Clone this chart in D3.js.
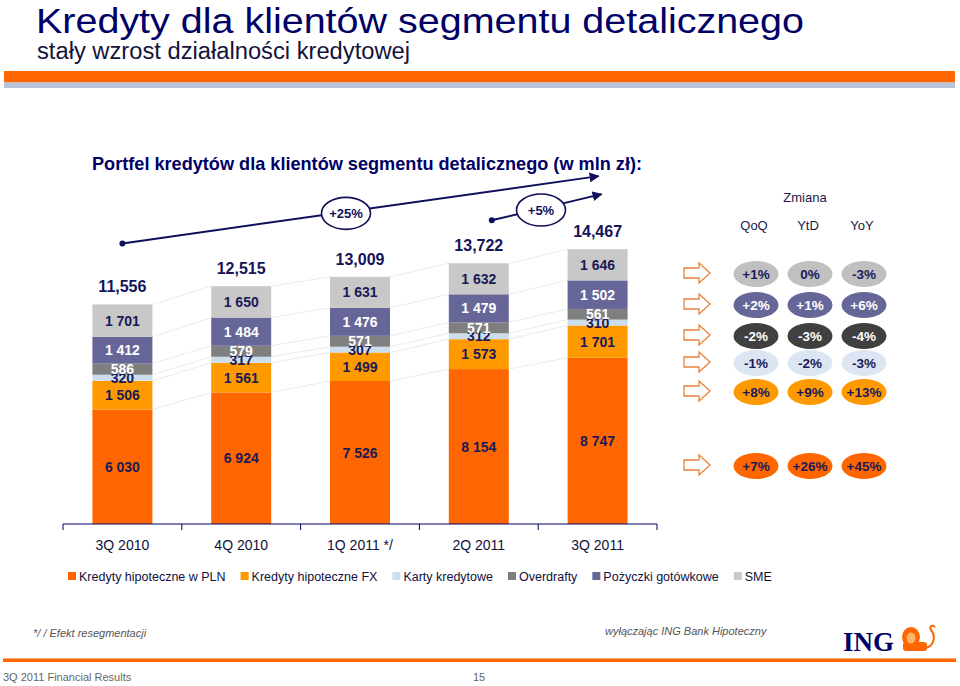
<!DOCTYPE html>
<html><head><meta charset="utf-8">
<script src="https://cdn.jsdelivr.net/npm/d3@7"></script>
<style>
html,body{margin:0;padding:0;background:#fff;}
svg{display:block;font-family:"Liberation Sans",Arial,sans-serif;}
</style></head>
<body>
<svg id="chart" width="960" height="686"></svg>
<script>
// ---------- DATA ----------
const categories = ["3Q 2010", "4Q 2010", "1Q 2011 */", "2Q 2011", "3Q 2011"];
const seriesNames = ["Kredyty hipoteczne w PLN", "Kredyty hipoteczne FX", "Karty kredytowe", "Overdrafty", "Pożyczki gotówkowe", "SME"];
const plnMortgages = [6030, 6924, 7526, 8154, 8747];
const fxMortgages  = [1506, 1561, 1499, 1573, 1701];
const creditCards  = [320, 317, 307, 312, 310];
const overdrafts   = [586, 579, 571, 571, 561];
const cashLoans    = [1412, 1484, 1476, 1479, 1502];
const smeLoans     = [1701, 1650, 1631, 1632, 1646];
const totals       = [11556, 12515, 13009, 13722, 14467];
const growthLabels = ["+25%", "+5%"];
const changeHeaders = ["QoQ", "YtD", "YoY"];
const changeSME   = ["+1%", "0%", "-3%"];
const changeCash  = ["+2%", "+1%", "+6%"];
const changeOver  = ["-2%", "-3%", "-4%"];
const changeCards = ["-1%", "-2%", "-3%"];
const changeFX    = ["+8%", "+9%", "+13%"];
const changePLN   = ["+7%", "+26%", "+45%"];

// ---------- STYLE ----------
const colors = ["#FF6600", "#FF9900", "#CCDDEE", "#7F7F7F", "#666699", "#C8C8C8"];
const labelColors = ["#1a1a55", "#1a1a55", "#1a1a55", "#ffffff", "#ffffff", "#1a1a55"];
const navy = "#000066";

const svg = d3.select("#chart");

// ---------- HEADER ----------
svg.append("text").attr("x", 36).attr("y", 32.5).attr("font-size", 35.5)
  .attr("fill", navy).attr("textLength", 768).attr("lengthAdjust", "spacingAndGlyphs")
  .text("Kredyty dla klientów segmentu detalicznego");
svg.append("text").attr("x", 37).attr("y", 59).attr("font-size", 23)
  .attr("fill", "#14143a").attr("textLength", 373).attr("lengthAdjust", "spacingAndGlyphs")
  .text("stały wzrost działalności kredytowej");
svg.append("rect").attr("x", 4).attr("y", 71).attr("width", 951).attr("height", 11.5).attr("fill", "#FF6600");
svg.append("rect").attr("x", 4).attr("y", 82.5).attr("width", 951).attr("height", 5.5).attr("fill", "#B7C3DB");

svg.append("text").attr("x", 92).attr("y", 170).attr("font-size", 19).attr("font-weight", "bold")
  .attr("fill", navy).attr("textLength", 550).attr("lengthAdjust", "spacingAndGlyphs")
  .text("Portfel kredytów dla klientów segmentu detalicznego (w mln zł):");

// ---------- SCALES ----------
const x = d3.scaleBand().domain(categories).range([63, 657]).paddingInner(0.495).paddingOuter(0.2475);
const y = d3.scaleLinear().domain([0, 17000]).range([524, 201]);
const bw = x.bandwidth();

const rows = categories.map((c, i) => ({
  cat: c, pln: plnMortgages[i], fx: fxMortgages[i], cards: creditCards[i],
  over: overdrafts[i], cash: cashLoans[i], sme: smeLoans[i]
}));
const keys = ["pln", "fx", "cards", "over", "cash", "sme"];
const stacked = d3.stack().keys(keys)(rows);

// connector lines between bars
stacked.forEach(layer => {
  for (let i = 0; i < layer.length - 1; i++) {
    svg.append("line")
      .attr("x1", x(categories[i]) + bw).attr("y1", y(layer[i][1]))
      .attr("x2", x(categories[i + 1])).attr("y2", y(layer[i + 1][1]))
      .attr("stroke", "#ececf0").attr("stroke-width", 1);
  }
});

// bars
const fmt = d3.formatLocale({ decimal: ".", thousands: " ", grouping: [3], currency: ["", ""] }).format(",");
stacked.forEach((layer, k) => {
  const g = svg.append("g");
  g.selectAll("rect").data(layer).join("rect")
    .attr("x", (d, i) => x(categories[i])).attr("width", bw)
    .attr("y", d => y(d[1])).attr("height", d => y(d[0]) - y(d[1]))
    .attr("fill", colors[k]);
});
stacked.forEach((layer, k) => {
  svg.append("g").selectAll("text").data(layer).join("text")
    .attr("x", (d, i) => x(categories[i]) + bw / 2)
    .attr("y", d => (y(d[0]) + y(d[1])) / 2 + 5)
    .attr("text-anchor", "middle").attr("font-size", 14).attr("font-weight", "bold")
    .attr("fill", labelColors[k])
    .text(d => fmt(d[1] - d[0]));
});

// totals
const fmtTot = d3.format(",");
svg.append("g").selectAll("text").data(totals).join("text")
  .attr("x", (d, i) => x(categories[i]) + bw / 2)
  .attr("y", d => y(d) - 12)
  .attr("text-anchor", "middle").attr("font-size", 16).attr("font-weight", "bold")
  .attr("fill", "#14145a").text(d => fmtTot(d));

// axis
const axisG = svg.append("g").attr("transform", "translate(0,524)")
  .call(d3.axisBottom(x).tickSize(0).tickPadding(16));
axisG.select(".domain").attr("stroke", navy).attr("d", "M63,6V0H657V6");
axisG.selectAll("text").attr("font-size", 14).attr("fill", "#10103a")
  .attr("font-family", "Liberation Sans, Arial, sans-serif");
const step = x.step();
for (let i = 1; i < categories.length; i++) {
  axisG.append("line").attr("x1", 63 + i * step).attr("x2", 63 + i * step)
    .attr("y1", 0).attr("y2", 6).attr("stroke", navy);
}

// growth arrows
svg.append("defs").append("marker").attr("id", "ah").attr("viewBox", "0 0 10 10")
  .attr("refX", 9).attr("refY", 5).attr("markerWidth", 5).attr("markerHeight", 5)
  .attr("orient", "auto").append("path").attr("d", "M0,0L10,5L0,10z").attr("fill", "#10105a");
const cx = c => x(c) + bw / 2;
const growth = [
  { x1: cx(categories[0]), y1: y(totals[0]) - 61, x2: cx(categories[4]) + 1, y2: y(totals[4]) - 73, ex: 346, label: growthLabels[0] },
  { x1: cx(categories[3]) + 13, y1: y(totals[3]) - 43, x2: cx(categories[4]) + 4, y2: y(totals[4]) - 55, ex: 541, label: growthLabels[1] }
];
growth.forEach(g => {
  svg.append("line").attr("x1", g.x1).attr("y1", g.y1).attr("x2", g.x2).attr("y2", g.y2)
    .attr("stroke", "#10105a").attr("stroke-width", 2).attr("marker-end", "url(#ah)");
  svg.append("circle").attr("cx", g.x1).attr("cy", g.y1).attr("r", 3).attr("fill", "#10105a");
  const t = (g.ex - g.x1) / (g.x2 - g.x1);
  const ey = g.y1 + t * (g.y2 - g.y1) + 1.5;
  svg.append("ellipse").attr("cx", g.ex).attr("cy", ey).attr("rx", 24.5).attr("ry", 16)
    .attr("fill", "#fff").attr("stroke", "#10105a").attr("stroke-width", 1.6);
  svg.append("text").attr("x", g.ex).attr("y", ey + 4.5).attr("text-anchor", "middle")
    .attr("font-size", 13).attr("font-weight", "bold").attr("fill", "#10105a").text(g.label);
});

// ---------- CHANGE PANEL ----------
svg.append("text").attr("x", 805).attr("y", 202).attr("text-anchor", "middle")
  .attr("font-size", 13).attr("fill", "#1a1a4a").text("Zmiana");
const colX = [756, 810, 864];
svg.append("g").selectAll("text").data(changeHeaders).join("text")
  .attr("x", (d, i) => colX[i] - 2).attr("y", 230).attr("text-anchor", "middle")
  .attr("font-size", 13).attr("fill", "#1a1a4a").text(d => d);

const panelRows = [
  { vals: changeSME,   fill: "#C0C0C0", text: "#1a1a5a", cy: 274 },
  { vals: changeCash,  fill: "#666699", text: "#ffffff", cy: 305 },
  { vals: changeOver,  fill: "#404040", text: "#ffffff", cy: 336 },
  { vals: changeCards, fill: "#DCE6F2", text: "#1a1a5a", cy: 363 },
  { vals: changeFX,    fill: "#FF9900", text: "#1a1a5a", cy: 392 },
  { vals: changePLN,   fill: "#FF6600", text: "#1a1a5a", cy: 466 }
];
panelRows.forEach(r => {
  const ay = r.cy - 1;
  svg.append("path")
    .attr("d", `M684,${ay - 5}H699V${ay - 10}L710,${ay}L699,${ay + 10}V${ay + 5}H684Z`)
    .attr("fill", "#fff").attr("stroke", "#E8813A").attr("stroke-width", 1.3);
  r.vals.forEach((v, i) => {
    svg.append("ellipse").attr("cx", colX[i]).attr("cy", r.cy).attr("rx", 22.5).attr("ry", 13)
      .attr("fill", r.fill);
    svg.append("text").attr("x", colX[i]).attr("y", r.cy + 5).attr("text-anchor", "middle")
      .attr("font-size", 13.5).attr("font-weight", "bold").attr("fill", r.text).text(v);
  });
});

// ---------- LEGEND ----------
let lx = 68;
seriesNames.forEach((n, k) => {
  svg.append("rect").attr("x", lx).attr("y", 572).attr("width", 8).attr("height", 8).attr("fill", colors[k]);
  const t = svg.append("text").attr("x", lx + 11).attr("y", 581).attr("font-size", 12.5)
    .attr("fill", "#10103a").text(n);
  lx += 11 + t.node().getComputedTextLength() + 15;
});

// ---------- FOOTER ----------
svg.append("text").attr("x", 33).attr("y", 637).attr("font-size", 11).attr("font-style", "italic")
  .attr("fill", "#555").text("*/ / Efekt resegmentacji");
svg.append("text").attr("x", 605).attr("y", 635).attr("font-size", 11).attr("font-style", "italic")
  .attr("fill", "#555").text("wyłączając ING Bank Hipoteczny");
svg.append("text").attr("x", 843).attr("y", 651).attr("font-size", 27).attr("font-weight", "bold")
  .attr("font-family", "Liberation Serif, Times New Roman, serif").attr("fill", navy).text("ING");
// lion (simplified)
const lion = svg.append("g").attr("fill", "#FF6600");
lion.append("ellipse").attr("cx", 911).attr("cy", 637).attr("rx", 9).attr("ry", 10);
lion.append("rect").attr("x", 903).attr("y", 642).attr("width", 24).attr("height", 9).attr("rx", 3);
lion.append("path").attr("d", "M926,648 C934,646 936,636 931,630 C929,627 932,624 935,627")
  .attr("fill", "none").attr("stroke", "#FF6600").attr("stroke-width", 2);
svg.append("ellipse").attr("cx", 911).attr("cy", 638).attr("rx", 4.5).attr("ry", 5.5).attr("fill", "#FFB366");
svg.append("rect").attr("x", 3).attr("y", 658.5).attr("width", 953).attr("height", 3.5).attr("fill", "#FF6600");
svg.append("text").attr("x", 3).attr("y", 681).attr("font-size", 11).attr("fill", "#666")
  .text("3Q 2011 Financial Results");
svg.append("text").attr("x", 473).attr("y", 681).attr("font-size", 11).attr("fill", "#666").text("15");
</script>
</body></html>
